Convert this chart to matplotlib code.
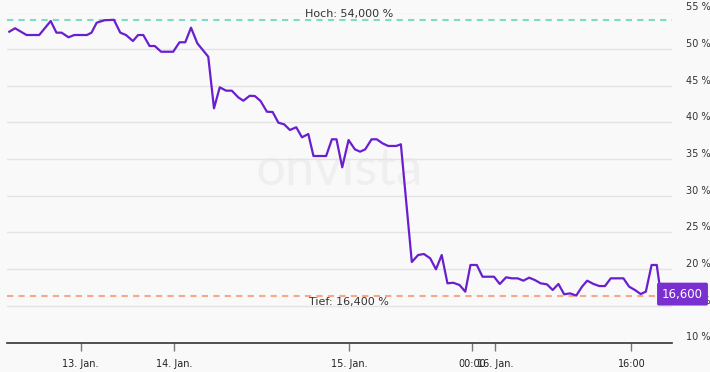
import matplotlib.pyplot as plt
from matplotlib.transforms import blended_transform_factory

# time axis in trading steps (index units), values in %
t = [0, 1.0, 3.0, 5.2, 7.2, 8.2, 9.1, 10.3, 11.3, 13.5, 14.3, 15.2, 16.6, 18.2,
     19.3, 20.3, 21.5, 22.4, 23.3, 24.4, 25.3, 26.4, 28.5, 29.6, 30.6, 31.6,
     32.7, 34.6, 35.6, 36.6, 37.7, 38.7, 39.8, 40.7, 41.8, 42.7, 43.7, 44.8,
     45.8, 46.8, 47.8, 48.8, 49.9, 50.9, 52.0, 52.9, 55.1, 56.1, 56.9, 57.9,
     59.0, 60.1, 61.0, 61.9, 63.0, 63.9, 64.9, 65.9, 67.3, 68.1, 70.0, 71.1,
     72.1, 73.2, 74.2, 75.2, 76.2, 77.2, 78.3, 79.3, 80.2, 81.3, 82.3, 84.3,
     85.3, 86.4, 87.4, 88.4, 89.4, 90.4, 91.4, 92.4, 93.5, 94.5, 95.5, 96.5,
     97.5, 98.6, 99.6, 100.5, 101.6, 102.6, 103.6, 104.6, 106.8, 107.8, 108.8,
     109.8, 110.7, 111.7, 112.6, 113.3]
kurs = [52.38, 52.85, 51.93, 51.93, 53.84, 52.25, 52.25, 51.62, 51.93, 51.93,
        52.25, 53.61, 53.95, 54.0, 52.25, 51.93, 51.11, 51.93, 51.93, 50.43,
        50.43, 49.65, 49.65, 50.94, 50.94, 52.93, 50.8, 48.97, 41.94, 44.8,
        44.34, 44.34, 43.44, 42.97, 43.64, 43.61, 42.93, 41.47, 41.43, 39.97,
        39.75, 38.98, 39.35, 37.98, 38.43, 35.43, 35.43, 37.71, 37.71, 33.89,
        37.61, 36.34, 36.02, 36.34, 37.71, 37.71, 37.16, 36.8, 36.8, 37.03,
        20.98, 21.93, 22.07, 21.48, 19.98, 21.93, 18.07, 18.15, 17.84, 16.93,
        20.57, 20.57, 18.97, 18.97, 17.98, 18.89, 18.75, 18.75, 18.43, 18.84,
        18.52, 18.07, 17.93, 17.16, 17.98, 16.57, 16.7, 16.4, 17.61, 18.43,
        17.98, 17.7, 17.7, 18.75, 18.75, 17.61, 17.16, 16.61, 16.93, 20.57,
        20.57, 16.6]

hoch = 54.0
tief = 16.4
letzter = 16.6

xtick_pos = [12.4, 28.6, 59.1, 80.5, 84.5, 108.2]
xtick_labels = ["13. Jan.", "14. Jan.", "15. Jan.", "00:00", "16. Jan.", "16:00"]
ytick_vals = [10, 15, 20, 25, 30, 35, 40, 45, 50, 55]

bg = "#f9f9f9"
purple = "#6a1fcf"

fig = plt.figure(figsize=(7.1, 3.72), dpi=100, facecolor=bg)
ax = fig.add_axes([7 / 710, 1 - 342.5 / 372, 665 / 710, 330 / 372])
ax.set_facecolor(bg)

ax.set_xlim(-0.4, 115.25)
ax.set_ylim(10, 55)

# grid
for v in ytick_vals[1:]:
    ax.axhline(v, color="#e4e4e4", lw=1, zorder=1)

# watermark
ax.text(0.5, 0.52, "onvista", transform=ax.transAxes, fontsize=38,
        family="Lato", color="#efefef", ha="center", va="center", zorder=0)

# high / low lines
blend = blended_transform_factory(ax.transAxes, ax.transData)
ax.axhline(hoch, color="#7fdcc4", lw=1.5, ls=(0, (3, 2.5)), zorder=2)
ax.axhline(tief, color="#f7a888", lw=1.5, ls=(0, (3, 2.5)), zorder=2)
ax.text(0.514, hoch + 0.05, "Hoch: 54,000 %", transform=blend,
        ha="center", va="bottom", fontsize=8, color="#333333", zorder=3)
ax.text(0.514, tief - 0.15, "Tief: 16,400 %", transform=blend,
        ha="center", va="top", fontsize=8, color="#333333", zorder=3)

ax.plot(t, kurs, color=purple, lw=1.6, zorder=4, solid_joinstyle="round")

# last price box
ax.text((662 - 7) / 665, letzter, "16,600", transform=blend,
        ha="left", va="center", fontsize=8.5, color="white", zorder=6, clip_on=False,
        bbox=dict(boxstyle="round,pad=0.42,rounding_size=0.15", fc="#7a30d0", ec="none"))

# axes
for s in ["top", "right", "left"]:
    ax.spines[s].set_visible(False)
ax.spines["bottom"].set_color("#333333")
ax.spines["bottom"].set_linewidth(1.2)

ax.set_xticks(xtick_pos)
ax.set_xticklabels(xtick_labels)
ax.tick_params(axis="x", length=6, width=1, color="#777777", pad=6,
               labelsize=7, labelcolor="#222222")

ax.yaxis.tick_right()
ax.set_yticks(ytick_vals)
ax.set_yticklabels([f"{v} %" for v in ytick_vals])
ax.tick_params(axis="y", length=0, pad=10, labelsize=7, labelcolor="#333333")
for lab in ax.get_yticklabels():
    lab.set_va("center")
    lab.set_y(lab.get_position()[1])
# labels sit a little above their grid line
for lab, v in zip(ax.get_yticklabels(), ytick_vals):
    lab.set_va("bottom")

fig.savefig("out.png", dpi=100, facecolor=bg)
